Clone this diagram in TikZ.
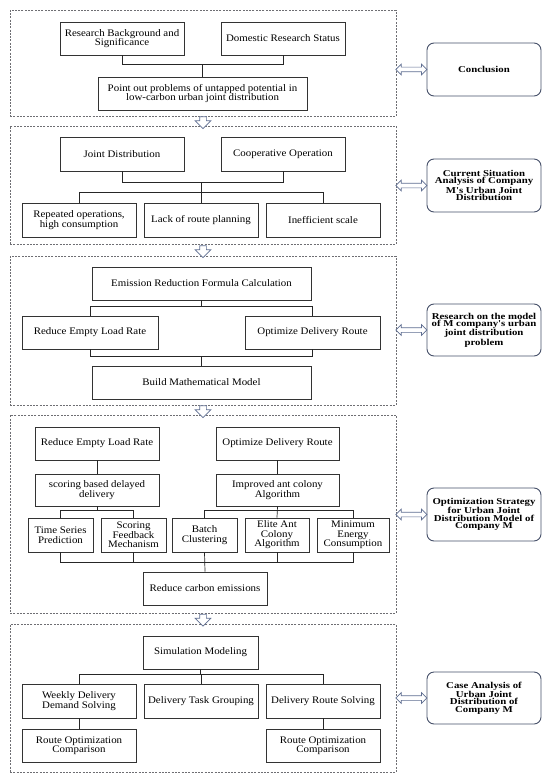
\documentclass[tikz,border=0pt]{standalone}
\usepackage{fontspec}
\setmainfont{Liberation Serif}[FakeStretch=1.09]
\newfontfamily\rbfont{Liberation Serif}[FakeStretch=1.2]
\usetikzlibrary{shapes.arrows,calc}
\definecolor{arrowc}{RGB}{95,110,145}
\definecolor{rboxc}{RGB}{70,80,105}
\definecolor{dashc}{RGB}{110,110,115}
\tikzset{
  box/.style={draw=black!80, line width=0.8pt, align=center, inner sep=0pt, fill=white,
    font=\fontsize{10}{9.5}\selectfont},
  rbox/.style={draw=rboxc, line width=0.9pt, rounded corners=7pt, align=center, inner sep=0pt,
    font=\rbfont\fontsize{9}{7.6}\selectfont\bfseries},
  sect/.style={draw=dashc, line width=0.6pt, dash pattern=on 2pt off 1.3pt, inner sep=0pt},
  conn/.style={draw=black!85, line width=0.7pt},
  darrow/.style={double arrow, draw=arrowc, fill=white, line width=0.7pt, inner sep=2pt,
    double arrow head extend=3pt, minimum height=31pt, double arrow tip angle=90},
  downarrow/.style={single arrow, draw=arrowc, fill=white, line width=0.7pt, inner sep=3pt,
    single arrow head extend=4.5pt, minimum height=12pt, shape border rotate=270}
}
\newcommand\bx[7]{%
  \pgfmathsetmacro\bw{#5-#3}\pgfmathsetmacro\bh{#6-#4}%
  \pgfmathsetmacro\bcx{(#3+#5)/2}\pgfmathsetmacro\bcy{(#4+#6)/2}%
  \node[#1,minimum width=\bw pt,minimum height=\bh pt] (#2) at (\bcx,\bcy) {#7};}
\begin{document}
\begin{tikzpicture}[x=1pt,y=-1pt]
\useasboundingbox[fill=white] (0,0) rectangle (550,781);
% sections
\bx{sect}{s1}{10}{10}{396}{116}{}
\bx{sect}{s2}{10}{126}{396}{244}{}
\bx{sect}{s3}{10}{256}{396}{405}{}
\bx{sect}{s4}{10}{415}{396}{613}{}
\bx{sect}{s5}{10}{624}{396}{772}{}
% section 1
\bx{box}{rb}{60}{22}{184}{55}{Research Background and\\Significance}
\bx{box}{drs}{221}{22}{345}{55}{Domestic Research Status}
\bx{box}{pop}{98}{77}{307}{110}{Point out problems of untapped potential in\\low-carbon urban joint distribution}
\draw[conn] (rb.south) -- ++(0,9) -| (drs.south);
\draw[conn] (pop.north) -- ++(0,-13);
% section 2
\bx{box}{jd}{60}{137}{184}{171}{Joint Distribution}
\bx{box}{co}{221}{137}{345}{171}{Cooperative Operation}
\bx{box}{rep}{22}{203}{136}{237}{Repeated operations,\\high consumption}
\bx{box}{lrp}{144}{203}{258}{237}{Lack of route planning}
\bx{box}{ies}{266}{203}{380}{237}{Inefficient scale}
\draw[conn] (jd.south) -- ++(0,11) -| (co.south);
\draw[conn] (lrp.north) -- ++(0,-21);
\draw[conn] (rep.north) -- ++(0,-10) -| (ies.north);
% section 3
\bx{box}{erf}{92}{267}{311}{300}{Emission Reduction Formula Calculation}
\bx{box}{rel}{22}{316}{158}{349}{Reduce Empty Load Rate}
\bx{box}{odr}{245}{316}{380}{349}{Optimize Delivery Route}
\bx{box}{bmm}{92}{366}{311}{399}{Build Mathematical Model}
\draw[conn] (erf.south) -- ++(0,7);
\draw[conn] (rel.north) -- ++(0,-9) -| (odr.north);
\draw[conn] (rel.south) -- ++(0,7) -| (odr.south);
\draw[conn] (bmm.north) -- ++(0,-10);
% section 4
\bx{box}{rel2}{35}{427}{159}{460}{Reduce Empty Load Rate}
\bx{box}{odr2}{216}{427}{339}{460}{Optimize Delivery Route}
\bx{box}{sbd}{35}{474}{159}{506}{scoring based delayed\\delivery}
\bx{box}{iac}{216}{474}{339}{506}{Improved ant colony\\Algorithm}
\bx{box}{tsp}{28}{518}{93}{552}{Time Series\\Prediction}
\bx{box}{sfm}{101}{518}{166}{552}{Scoring\\Feedback\\Mechanism}
\bx{box}{bc}{172}{518}{237}{552}{Batch\\Clustering}
\bx{box}{eac}{245}{518}{309}{552}{Elite Ant\\Colony\\Algorithm}
\bx{box}{mec}{317}{518}{389}{552}{Minimum\\Energy\\Consumption}
\bx{box}{rce}{143}{572}{267}{605}{Reduce carbon emissions}
\draw[conn] (rel2.south) -- (sbd.north);
\draw[conn] (odr2.south) -- (iac.north);
\draw[conn] (sbd.south) -- ++(0,5);
\draw[conn] (tsp.north) -- ++(0,-7) -| (sfm.north);
\draw[conn] (iac.south) -- (eac.north);
\draw[conn] (bc.north) -- ++(0,-7) -| (mec.north);
\draw[conn] (tsp.south) -- ++(0,10) -| (mec.south);
\draw[conn] (sfm.south) -- ++(0,10);
\draw[conn] (bc.south) -- (rce.north);
\draw[conn] (eac.south) -- ++(0,10);
% section 5
\bx{box}{sim}{143}{636}{258}{669}{Simulation Modeling}
\bx{box}{wdd}{22}{684}{136}{718}{Weekly Delivery\\Demand Solving}
\bx{box}{dtg}{144}{684}{258}{718}{Delivery Task Grouping}
\bx{box}{drs2}{266}{684}{380}{718}{Delivery Route Solving}
\bx{box}{roc1}{22}{729}{136}{762}{Route Optimization\\Comparison}
\bx{box}{roc2}{266}{729}{380}{762}{Route Optimization\\Comparison}
\draw[conn] (sim.south) -- ++(0,6);
\draw[conn] (wdd.north) -- ++(0,-9) -| (drs2.north);
\draw[conn] (dtg.north) -- ++(0,-9);
\draw[conn] (wdd.south) -- (roc1.north);
\draw[conn] (drs2.south) -- (roc2.north);
% right boxes
\bx{rbox}{c1}{427}{43}{541}{96}{Conclusion}
\bx{rbox}{c2}{427}{159}{541}{212}{Current Situation\\Analysis of Company\\M's Urban Joint\\Distribution}
\bx{rbox}{c3}{427}{304}{541}{356}{Research on the model\\of M company's urban\\joint distribution\\problem}
\bx{rbox}{c4}{427}{488}{541}{541}{Optimization Strategy\\for Urban Joint\\Distribution Model of\\Company M}
\bx{rbox}{c5}{427}{672}{541}{724}{Case Analysis of\\Urban Joint\\Distribution of\\Company M}
% double arrows
\foreach \c in {c1,c2,c3,c4,c5}{
  \path (s1.east |- \c.west) coordinate (a\c);
  \node[darrow] (da\c) at ($(a\c)!0.5!(\c.west)$) {};
}
% down arrows
\node[downarrow] (d1) at (203,121) {};
\node[downarrow] (d2) at (203,250) {};
\node[downarrow] (d3) at (203,410) {};
\node[downarrow] (d4) at (203,618.5) {};
\end{tikzpicture}
\end{document}
